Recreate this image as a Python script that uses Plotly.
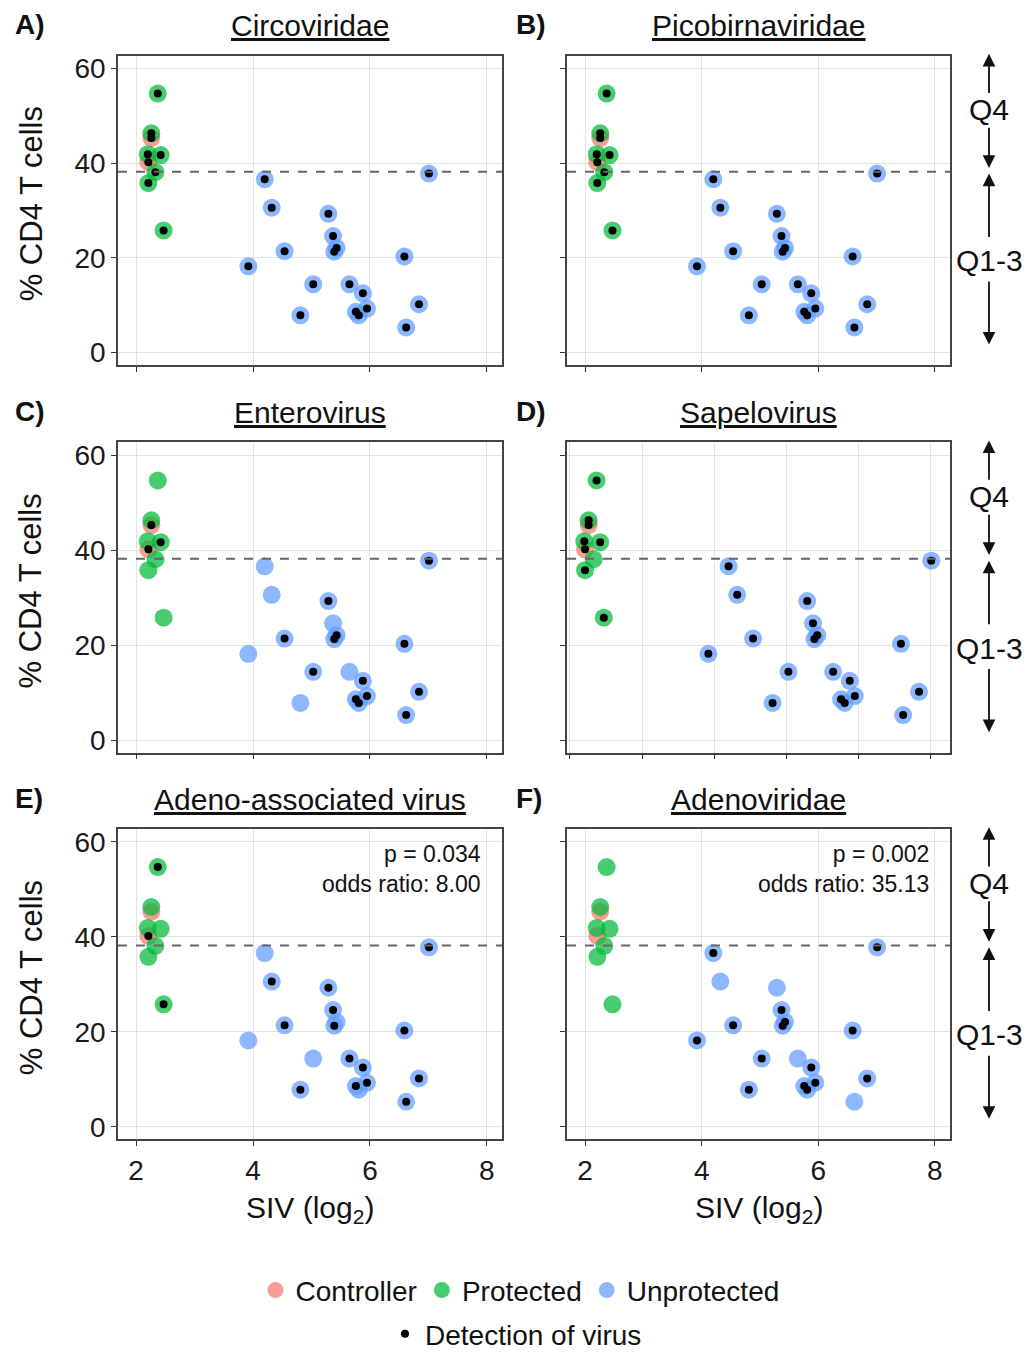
import plotly.graph_objects as go

W, H = 1029, 1359

viruses = ["Circoviridae", "Picobirnaviridae", "Enterovirus",
           "Sapelovirus", "Adeno-associated virus", "Adenoviridae"]
panel_letters = ["A)", "B)", "C)", "D)", "E)", "F)"]

# one entry per animal: 7 protected, 2 controllers, 19 unprotected
group = ["Protected", "Protected", "Protected", "Protected", "Protected", "Protected", "Protected",
         "Controller", "Controller",
         "Unprotected", "Unprotected", "Unprotected", "Unprotected", "Unprotected", "Unprotected",
         "Unprotected", "Unprotected", "Unprotected", "Unprotected", "Unprotected", "Unprotected",
         "Unprotected", "Unprotected", "Unprotected", "Unprotected", "Unprotected", "Unprotected",
         "Unprotected"]
siv_log2 = [2.37, 2.26, 2.20, 2.42, 2.33, 2.21, 2.47,
            2.26, 2.21,
            3.92, 4.20, 4.32, 4.54, 4.81, 5.03, 5.29, 5.37, 5.43, 5.39,
            5.65, 5.88, 5.76, 5.81, 5.95, 6.59, 6.84, 6.62, 7.01]
cd4_pct = [54.7, 46.3, 41.9, 41.7, 38.1, 35.8, 25.8,
           45.3, 40.2,
           18.2, 36.6, 30.6, 21.4, 7.85, 14.4, 29.3, 24.6, 22.1, 21.3,
           14.4, 12.5, 8.6, 7.85, 9.3, 20.3, 10.2, 5.3, 37.8]

# virus detected (1) or not (0), same animal order
det_circo = [1, 1, 1, 1, 1, 1, 1, 1, 1,
             1, 1, 1, 1, 1, 1, 1, 1, 1, 1, 1, 1, 1, 1, 1, 1, 1, 1, 1]
det_picobirna = [1, 1, 1, 1, 1, 1, 1, 1, 1,
                 1, 1, 1, 1, 1, 1, 1, 1, 1, 1, 1, 1, 1, 1, 1, 1, 1, 1, 1]
det_entero = [0, 0, 0, 1, 0, 0, 0, 1, 1,
              0, 0, 0, 1, 0, 1, 1, 0, 1, 1, 0, 1, 1, 1, 1, 1, 1, 1, 1]
det_sapelo = [1, 1, 1, 1, 0, 1, 1, 1, 1,
              1, 1, 1, 1, 1, 1, 1, 1, 1, 1, 1, 1, 1, 1, 1, 1, 1, 1, 1]
det_aav = [1, 0, 0, 0, 0, 0, 1, 0, 1,
           0, 0, 1, 1, 1, 0, 1, 1, 0, 1, 1, 1, 1, 0, 1, 1, 1, 1, 1]
det_adeno = [0, 0, 0, 0, 0, 0, 0, 0, 0,
             1, 1, 0, 1, 1, 1, 0, 1, 1, 1, 0, 1, 1, 1, 1, 1, 1, 0, 1]
detections = [det_circo, det_picobirna, det_entero, det_sapelo, det_aav, det_adeno]

cd4_cutoff = 38.2
stats = {4: "p = 0.034<br>odds ratio: 8.00", 5: "p = 0.002<br>odds ratio: 35.13"}

y_ticks = [0, 20, 40, 60]
x_ticks = [2, 4, 6, 8]
x_ticks_sapelo = [2, 3, 4, 5, 6, 7]

colors = {"Controller": "#F8766D", "Protected": "#00BA38", "Unprotected": "#619CFF"}
group_order = ["Controller", "Protected", "Unprotected"]

col_px = [(118, 502), (567, 950)]
row_px = [(54, 365), (443, 755), (832, 1144)]


def px(x):
    return x / W


def py(y):
    return 1 - y / H


fig = go.Figure()
layout_axes = {}
annotations = []
shapes = []
txt = "#111"
fam = "Liberation Sans, Arial"

for i, virus in enumerate(viruses):
    r, c = divmod(i, 2)
    n = i + 1
    xa = "x" if n == 1 else f"x{n}"
    ya = "y" if n == 1 else f"y{n}"
    det = detections[i]

    for g in group_order:
        xs = [x for x, gg in zip(siv_log2, group) if gg == g]
        ys = [y for y, gg in zip(cd4_pct, group) if gg == g]
        fig.add_trace(go.Scatter(
            x=xs, y=ys, mode="markers", name=g, xaxis=xa, yaxis=ya,
            marker=dict(size=18, color=colors[g], opacity=0.72),
            showlegend=(i == 0), legend="legend"))
    fig.add_trace(go.Scatter(
        x=[x for x, d in zip(siv_log2, det) if d],
        y=[y for y, d in zip(cd4_pct, det) if d],
        mode="markers", name="Detection of virus", xaxis=xa, yaxis=ya,
        marker=dict(size=8, color="black"),
        showlegend=(i == 0), legend="legend2"))

    x0, x1 = col_px[c]
    y0, y1 = row_px[r]
    sapelo = virus == "Sapelovirus"
    common = dict(ticks="outside", ticklen=5, tickwidth=1.2, tickcolor="#333",
                  showline=True, mirror=True, linecolor="#444", linewidth=1.5,
                  showgrid=True, gridcolor="#e3e3e3", gridwidth=1, zeroline=False,
                  tickfont=dict(size=28, color="#1a1a1a", family=fam))
    layout_axes["xaxis" if n == 1 else f"xaxis{n}"] = dict(
        domain=[px(x0), px(x1)], anchor=ya,
        range=[1.96, 7.27] if sapelo else [1.69, 8.26],
        tickvals=x_ticks_sapelo if sapelo else x_ticks,
        showticklabels=(r == 2), **common)
    layout_axes["yaxis" if n == 1 else f"yaxis{n}"] = dict(
        domain=[py(y1), py(y0)], anchor=xa,
        range=[-2.6, 62.7], tickvals=y_ticks,
        showticklabels=(c == 0), **common)

    shapes.append(dict(type="line", xref=f"{xa} domain", yref=ya,
                       x0=0, x1=1, y0=cd4_cutoff, y1=cd4_cutoff,
                       line=dict(color="#666", width=2, dash="dash")))

    # panel title + letter
    annotations.append(dict(text=f"<u>{virus}</u>", xref="paper", yref="paper",
                            x=px((x0 + x1) / 2), y=py(y0 - 30),
                            xanchor="center", yanchor="middle",
                            showarrow=False, font=dict(size=30, color=txt)))
    annotations.append(dict(text=f"<b>{panel_letters[i]}</b>", xref="paper", yref="paper",
                            x=px(13 if c == 0 else 514), y=py(y0 - 31),
                            xanchor="left", yanchor="middle",
                            showarrow=False, font=dict(size=28, color=txt)))
    if i in stats:
        annotations.append(dict(text=stats[i], xref="paper", yref="paper",
                                x=px(x1 - 19), y=py(y0 + 10),
                                xanchor="right", yanchor="top", align="right",
                                showarrow=False, font=dict(size=23, color=txt)))
    if c == 0:
        annotations.append(dict(text="% CD4 T cells", xref="paper", yref="paper",
                                x=px(31), y=py((y0 + y1) / 2 - 6), textangle=-90,
                                xanchor="center", yanchor="middle",
                                showarrow=False, font=dict(size=31, color=txt)))
    if r == 2:
        annotations.append(dict(text="SIV (log<sub>2</sub>)", xref="paper", yref="paper",
                                x=px((x0 + x1) / 2), y=py(1215),
                                xanchor="center", yanchor="middle",
                                showarrow=False, font=dict(size=30, color=txt)))
    if c == 1:
        qx = px(989)
        # quartile brackets: arrow tails sit next to the labels
        for tip, tail in [(63.1, 54.5), (39.0, 47.8), (37.8, 24.1), (1.7, 15.3)]:
            annotations.append(dict(text="", xref="paper", yref=ya, x=qx, y=tip,
                                    axref="pixel", ayref=ya, ax=0, ay=tail,
                                    showarrow=True, arrowhead=2,
                                    arrowsize=1.4, arrowwidth=1.8, arrowcolor=txt))
        for label, yy in [("Q4", 51.3), ("Q1-3", 19.4)]:
            annotations.append(dict(text=label, xref="paper", yref=ya, x=qx, y=yy,
                                    xanchor="center", yanchor="middle",
                                    showarrow=False, font=dict(size=30, color=txt)))

fig.update_layout(
    width=W, height=H, margin=dict(l=0, r=0, t=0, b=0),
    paper_bgcolor="white", plot_bgcolor="white",
    font=dict(family=fam, color=txt),
    annotations=annotations, shapes=shapes,
    legend=dict(orientation="h", x=px(520), y=py(1296), xanchor="center", yanchor="middle",
                font=dict(size=28, color=txt), itemwidth=30, tracegroupgap=0),
    legend2=dict(orientation="h", x=px(516), y=py(1340), xanchor="center", yanchor="middle",
                 font=dict(size=28, color=txt), itemwidth=30),
    **layout_axes,
)

# drop the default page margin so the figure starts at the window corner
fig.write_html("out.html", config={"displayModeBar": False},
               post_script="document.body.style.margin='0';")
